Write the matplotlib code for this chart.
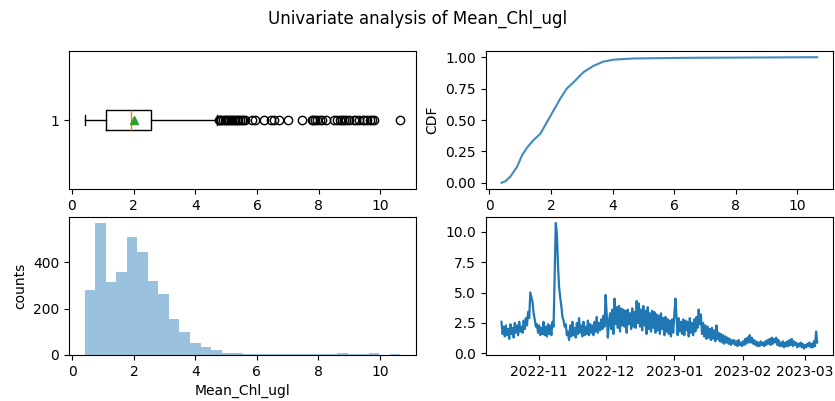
import numpy as np
import pandas as pd
import matplotlib
matplotlib.use("Agg")
import matplotlib.pyplot as plt
from matplotlib.ticker import MultipleLocator

VAR = "Mean_Chl_ugl"

# ── boxplot summary ──────────────────────────────────────────────────────────
BOX_WHISLO = 0.42
BOX_Q1 = 1.10
BOX_MED = 1.92
BOX_MEAN = 2.02
BOX_Q3 = 2.58
BOX_WHISHI = 4.72
BOX_FLIERS = [
    4.76, 4.80, 4.85, 4.90, 4.95, 5.00, 5.05, 5.10, 5.15, 5.20, 5.25, 5.30,
    5.35, 5.40, 5.45, 5.50, 5.55, 5.60, 5.83, 5.94, 6.22, 6.47, 6.55, 6.72,
    7.01, 7.47, 7.78, 7.82, 7.88, 7.95, 8.05, 8.12, 8.25, 8.50, 8.60, 8.68,
    8.75, 8.82, 8.90, 8.98, 9.15, 9.22, 9.30, 9.42, 9.48, 9.55, 9.65, 9.72,
    9.78, 10.65,
]

# ── CDF curve ────────────────────────────────────────────────────────────────
CDF_X = [0.39, 0.52, 0.68, 0.89, 1.06, 1.22, 1.43, 1.65, 1.86, 2.08, 2.30,
         2.51, 2.73, 3.05, 3.37, 3.70, 4.02, 4.67, 6.39, 10.65]
CDF_Y = [0.0, 0.013, 0.05, 0.125, 0.22, 0.28, 0.34, 0.39, 0.48, 0.575, 0.67,
         0.75, 0.80, 0.88, 0.93, 0.965, 0.98, 0.99, 0.995, 1.0]

# ── histogram (30 bins between min and max) ─────────────────────────────────
HIST_MIN = 0.40
HIST_MAX = 10.67
HIST_COUNTS = [280, 569, 314, 357, 509, 446, 318, 262, 156, 100, 53, 34, 20,
               9, 9, 4, 4, 3, 4, 3, 3, 4, 3, 4, 9, 4, 4, 9, 1, 3]

# ── time series, 12 h steps from 2022-10-15 ─────────────────────────────────
TS_START = "2022-10-15"
TS_VALUES = [
    2.6, 1.6, 2.2, 1.4, 2.3, 1.5, 2.0, 1.2, 2.4, 1.6, 2.1, 1.3, 2.5, 1.7,
    2.3, 1.5, 2.6, 1.8, 2.2, 1.7, 2.7, 2.0, 2.9, 2.3, 3.4, 2.9, 5.0, 4.6,
    4.2, 3.3, 2.8, 2.2, 2.4, 1.7, 2.3, 1.5, 2.1, 1.6, 2.6, 1.5, 2.2, 1.4,
    2.4, 1.6, 2.3, 1.5, 2.6, 2.2, 6.5, 10.7, 9.8, 7.2, 5.4, 4.6, 3.9, 3.0,
    2.7, 2.2, 2.4, 1.5, 1.8, 1.1, 2.3, 1.4, 2.6, 1.5, 2.1, 1.3, 2.5, 1.6,
    2.9, 1.7, 2.3, 1.4, 2.6, 1.5, 2.2, 1.6, 2.7, 1.5, 2.4, 1.7, 2.3, 1.5,
    2.6, 1.8, 3.0, 1.7, 2.5, 1.9, 2.8, 2.0, 3.1, 2.2, 4.8, 3.2, 1.3, 2.6,
    3.3, 2.0, 3.6, 1.6, 4.5, 2.4, 3.8, 2.1, 3.9, 1.8, 3.7, 2.3, 3.6, 2.2,
    3.5, 1.7, 3.6, 2.4, 3.3, 2.0, 3.7, 2.2, 3.4, 2.1, 4.3, 2.5, 4.1, 2.2,
    3.6, 1.9, 3.9, 2.3, 3.5, 1.6, 3.8, 2.0, 3.3, 1.8, 3.5, 2.1, 3.4, 1.7,
    3.2, 1.9, 3.1, 1.6, 3.3, 2.0, 2.9, 1.5, 3.0, 1.8, 2.8, 1.6, 2.7, 1.4,
    2.8, 1.7, 3.2, 4.5, 3.0, 1.5, 2.9, 1.8, 2.6, 1.6, 2.8, 1.5, 2.7, 1.9,
    2.6, 1.4, 2.9, 1.7, 2.5, 1.5, 2.8, 1.8, 3.0, 2.1, 3.6, 2.4, 3.2, 1.6,
    2.5, 1.4, 2.3, 1.2, 2.2, 1.3, 2.0, 1.1, 2.1, 1.2, 1.9, 1.0, 2.3, 1.2,
    1.7, 1.0, 1.6, 0.9, 1.5, 0.8, 1.4, 0.9, 1.3, 0.8, 1.2, 0.7, 1.1, 0.8,
    1.1, 0.7, 1.0, 0.6, 1.1, 0.7, 0.9, 0.6, 1.0, 0.7, 1.2, 0.8, 1.3, 0.9,
    1.5, 0.9, 1.3, 0.8, 1.1, 0.7, 1.0, 0.6, 0.9, 0.6, 1.0, 0.7, 0.9, 0.6,
    1.0, 0.7, 1.1, 0.8, 1.2, 0.7, 1.3, 0.8, 1.2, 0.9, 1.3, 0.7, 1.1, 0.6,
    0.9, 0.6, 1.0, 0.5, 0.9, 0.6, 1.0, 0.6, 1.1, 0.7, 1.2, 0.6, 1.0, 0.7,
    0.9, 0.5, 0.8, 0.6, 0.9, 0.5, 0.8, 0.4, 0.7, 0.5, 0.8, 0.6, 0.9, 0.5,
    0.8, 0.5, 1.0, 0.6, 1.8, 0.9,
]

ts_index = pd.date_range(TS_START, periods=len(TS_VALUES), freq="12h")
ts = pd.Series(TS_VALUES, index=ts_index)

fig, axes = plt.subplots(2, 2, figsize=(8.35, 4.01), dpi=100)
fig.subplots_adjust(left=0.0826, right=0.9976, top=0.873, bottom=0.115,
                    wspace=0.2, hspace=0.2)
fig.suptitle(f"Univariate analysis of {VAR}", y=0.975)

# boxplot
stats = [dict(med=BOX_MED, q1=BOX_Q1, q3=BOX_Q3, whislo=BOX_WHISLO,
              whishi=BOX_WHISHI, mean=BOX_MEAN, fliers=BOX_FLIERS, label="1")]
axes[0, 0].bxp(stats, vert=False, showmeans=True)

# CDF
axes[0, 1].plot(CDF_X, CDF_Y, color="C0", alpha=0.85)
axes[0, 1].set_ylabel("CDF")
axes[0, 1].yaxis.set_major_locator(MultipleLocator(0.25))

# histogram
edges = np.linspace(HIST_MIN, HIST_MAX, len(HIST_COUNTS) + 1)
centers = (edges[:-1] + edges[1:]) / 2
axes[1, 0].hist(centers, bins=edges, weights=HIST_COUNTS, alpha=0.45)
axes[1, 0].set_ylabel("counts")
axes[1, 0].set_xlabel(VAR)

# time series
axes[1, 1].plot(ts.index, ts.values, color="C0", linewidth=1.6)
axes[1, 1].yaxis.set_major_locator(MultipleLocator(2.5))

fig.savefig("out.png", dpi=100)
